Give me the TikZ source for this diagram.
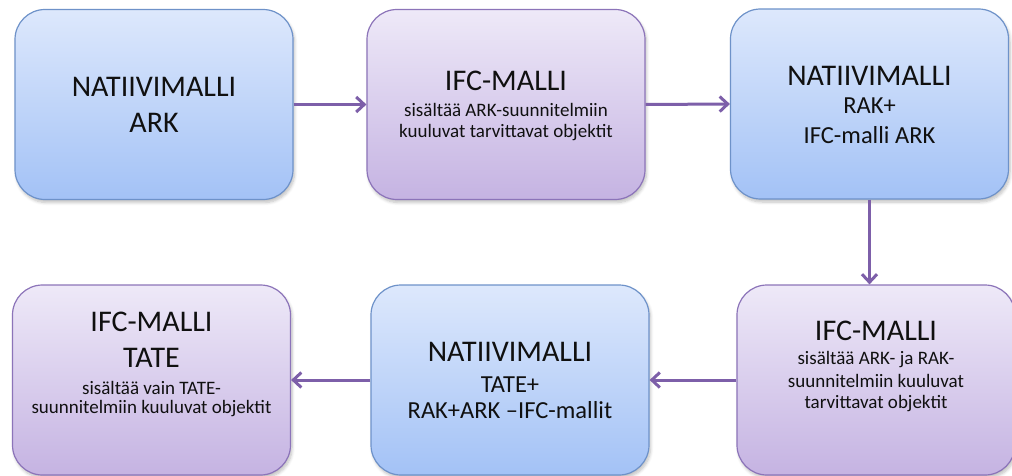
\documentclass[tikz,border=0pt]{standalone}
\usepackage{fontspec}
\setmainfont{Carlito}
\usetikzlibrary{arrows.meta,shadows.blur}

\definecolor{bluetop}{HTML}{DDE8FC}
\definecolor{bluebot}{HTML}{A3C2F6}
\definecolor{blueline}{HTML}{6E92C9}
\definecolor{purtop}{HTML}{EEE9F8}
\definecolor{purbot}{HTML}{C5B3E2}
\definecolor{purline}{HTML}{8C74B9}
\definecolor{flow}{HTML}{7D5FA9}
\definecolor{ink}{HTML}{101010}

\tikzset{
  card/.style={rectangle, rounded corners=30pt, line width=1.2pt,
    minimum width=278pt, minimum height=190pt, inner sep=0pt,
    blur shadow={shadow xshift=1.5pt, shadow yshift=-3pt, shadow blur steps=6,
      shadow blur radius=3pt, shadow opacity=25}},
  nativebox/.style={card, draw=blueline, top color=bluetop, bottom color=bluebot},
  ifcbox/.style={card, draw=purline, top color=purtop, bottom color=purbot},
  title/.style={anchor=base, text=ink, font=\fontsize{30}{34}\selectfont},
  midline/.style={anchor=base, text=ink, font=\fontsize{24.5}{28}\selectfont},
  smalltext/.style={anchor=base, text=ink, font=\fontsize{19}{22}\selectfont},
  flowarrow/.style={draw=flow, line width=3pt,
    -{Straight Barb[length=8pt,width=15pt,line width=3pt]}}
}

\begin{document}
\begin{tikzpicture}[x=1pt,y=-1pt]
\useasboundingbox (0,0) rectangle (1012,476);

% upper row
\node[nativebox] (n1) at (154,104.5) {};
\node[ifcbox]    (i1) at (506,104.5) {};
\node[nativebox] (n2) at (869.5,104) {};
% lower row
\node[ifcbox]    (i3) at (151.5,380) {};
\node[nativebox] (n3) at (510,380) {};
\node[ifcbox]    (i2) at (876,380) {};

% texts of the upper row
\node[title] (n1a) at (154,97) {NATIIVIMALLI};
\node[title] (n1b) at (154,132) {ARK};

\node[title]     (i1a) at (506,91) {IFC-MALLI};
\node[smalltext] (i1b) at (506,117) {sisältää ARK-suunnitelmiin};
\node[smalltext] (i1c) at (506,138) {kuuluvat tarvittavat objektit};

\node[title]   (n2a) at (869.5,86) {NATIIVIMALLI};
\node[midline] (n2b) at (869.5,114) {RAK+};
\node[midline] (n2c) at (869.5,143) {IFC-malli ARK};

% texts of the lower row
\node[title]     (i2a) at (876,340) {IFC-MALLI};
\node[smalltext] (i2b) at (876,364) {sisältää ARK- ja RAK-};
\node[smalltext] (i2c) at (876,387) {suunnitelmiin kuuluvat};
\node[smalltext] (i2d) at (876,408) {tarvittavat objektit};

\node[title]   (n3a) at (510,361) {NATIIVIMALLI};
\node[midline] (n3b) at (510,392) {TATE+};
\node[midline] (n3c) at (510,418) {RAK+ARK –IFC-mallit};

\node[title]     (i3a) at (151.5,331) {IFC-MALLI};
\node[title]     (i3b) at (151.5,367) {TATE};
\node[smalltext] (i3c) at (151.5,394) {sisältää vain TATE-};
\node[smalltext] (i3d) at (151.5,413) {suunnitelmiin kuuluvat objektit};

% workflow
\draw[flowarrow] (n1.east) -- (i1.west);
\draw[flowarrow] (i1.east) -- (n2.west);
\draw[flowarrow] (n2.south) -- (n2.south |- i2.north);
\draw[flowarrow] (i2.west) -- (n3.east);
\draw[flowarrow] (n3.west) -- (i3.east);
\end{tikzpicture}
\end{document}
